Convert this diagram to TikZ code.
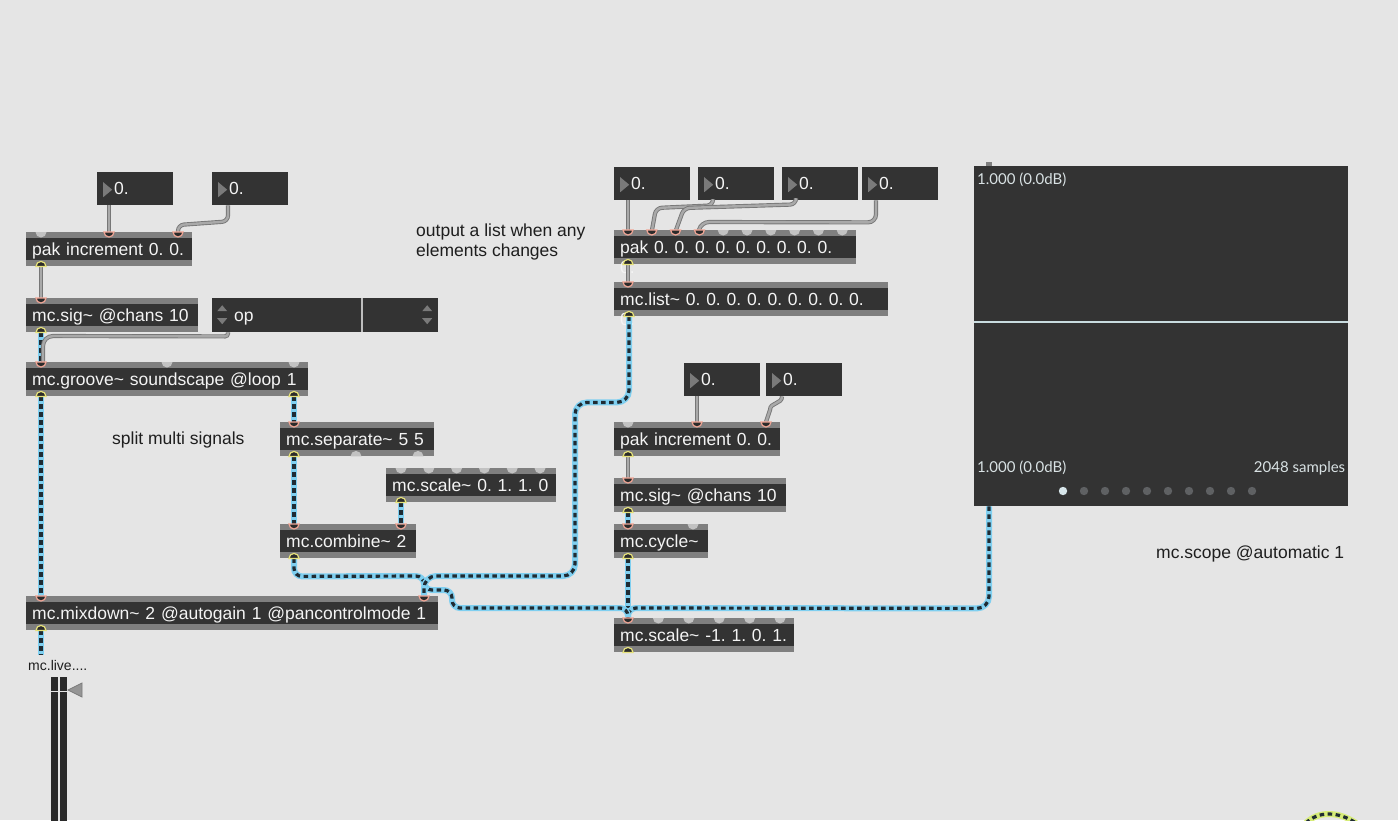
\documentclass[tikz,border=0pt]{standalone}
\usepackage{fontspec}
\setmainfont{Liberation Sans}
\newfontfamily\latofont{Lato}
\usetikzlibrary{calc}

\definecolor{canvas}{HTML}{E5E5E5}
\definecolor{objdark}{HTML}{333333}
\definecolor{objstrip}{HTML}{7F7F7F}
\definecolor{objtext}{HTML}{F4F4F4}
\definecolor{portdark}{HTML}{2B2B2B}
\definecolor{inletsal}{HTML}{F0A595}
\definecolor{outletyel}{HTML}{E6E27A}
\definecolor{portfree}{HTML}{C2C2C2}
\definecolor{sigblue}{HTML}{7FCFF0}
\definecolor{sigdash}{HTML}{1F2B33}
\definecolor{msggray}{HTML}{A9A9A9}
\definecolor{msgedge}{HTML}{777777}
\definecolor{commenttext}{HTML}{1E1E1E}
\definecolor{scopetext}{HTML}{D9E2E4}
\definecolor{scopeline}{HTML}{C9DCE0}
\definecolor{dotlight}{HTML}{D7E6EA}
\definecolor{dotgray}{HTML}{5F6163}
\definecolor{meterdark}{HTML}{2A2A2A}
\definecolor{arrowgray}{HTML}{7A7A7A}
\definecolor{menudiv}{HTML}{BEBEBE}
\definecolor{tailgreen}{HTML}{D6EC78}

\newcommand\objfont{\fontsize{17.5}{20}\selectfont}

% port glyphs: connected / free inlets on the top edge, outlets on the bottom edge
\newcommand\inOn[2]{\filldraw[inlet on] ($(#1.north west)+(#2,0)+(-5pt,0pt)$) arc[start angle=180,end angle=360,radius=5pt] -- cycle;}
\newcommand\inOff[2]{\fill[portfree] ($(#1.north west)+(#2,0)+(-5.5pt,0pt)$) arc[start angle=180,end angle=360,radius=5.5pt] -- cycle;}
\newcommand\outOn[2]{\filldraw[outlet on] ($(#1.south west)+(#2,0)+(-5pt,0pt)$) arc[start angle=180,end angle=0,radius=5pt] -- cycle;}
\newcommand\outOff[2]{\fill[portfree] ($(#1.south west)+(#2,0)+(-5.5pt,0pt)$) arc[start angle=180,end angle=0,radius=5.5pt] -- cycle;}

\begin{document}
\frenchspacing
\begin{tikzpicture}[x=1pt,y=-1pt,
  maxbox/.style={anchor=north west, fill=objstrip, text=objtext, font=\objfont,
    inner xsep=6pt, inner ysep=0pt, minimum height=34pt, text height=14.5pt, text depth=2pt,
    align=left,
    path picture={\fill[objdark] ($(path picture bounding box.north west)+(0pt,-6pt)$)
      rectangle ($(path picture bounding box.south east)+(0pt,6pt)$);}},
  numbox/.style={anchor=north west, fill=objdark, text=objtext, font=\objfont,
    inner xsep=17pt, inner ysep=0pt, text width=42pt, minimum height=33pt,
    text height=13pt, text depth=2pt, align=left,
    path picture={\fill[arrowgray] ($(path picture bounding box.north west)+(6pt,-10pt)$)
      -- ($(path picture bounding box.north west)+(6pt,-25pt)$)
      -- ($(path picture bounding box.north west)+(15pt,-17.5pt)$) -- cycle;}},
  menubox/.style={anchor=north west, fill=objdark, text=objtext, font=\objfont,
    inner xsep=22pt, inner ysep=0pt, text width=182pt, minimum height=34pt,
    text height=14.5pt, text depth=2pt, align=left,
    path picture={
      \draw[menudiv, line width=2pt] ($(path picture bounding box.north west)+(150pt,0pt)$)
        -- ($(path picture bounding box.south west)+(150pt,0pt)$);
      \foreach \dx in {5pt,210pt}{
        \fill[arrowgray] ($(path picture bounding box.north west)+(\dx,-13pt)$) -- +(10pt,0pt) -- +(5pt,6pt) -- cycle;
        \fill[arrowgray] ($(path picture bounding box.north west)+(\dx,-20pt)$) -- +(10pt,0pt) -- +(5pt,-6pt) -- cycle;
      }}},
  comment/.style={text=commenttext, font=\objfont, inner sep=0pt, align=left},
  scopetxt/.style={text=scopetext, font=\latofont\fontsize{15}{17}\selectfont, inner sep=0pt},
  sig/.style={draw=sigblue, line width=6pt, postaction={draw=sigdash, line width=3.2pt, dash pattern=on 4.5pt off 3.5pt}},
  sigtail/.style={draw=tailgreen, line width=6pt, postaction={draw=sigdash, line width=3.2pt, dash pattern=on 4.5pt off 3.5pt}},
  msg/.style={draw=msgedge, line width=4.2pt, postaction={draw=msggray, line width=2.4pt}},
  inlet on/.style={fill=portdark, draw=inletsal, line width=1.2pt},
  outlet on/.style={fill=portdark, draw=outletyel, line width=1.2pt},
]
\useasboundingbox (0,0) rectangle (1398,820);
\fill[canvas] (0,0) rectangle (1398,820);

% ---------- objects, left chain ----------
\node[numbox] (numA) at (97,172) {0.};
\node[numbox] (numB) at (212,172) {0.};
\node[maxbox, text width=154pt] (pakL) at (26,232) {pak increment 0. 0.};
\node[maxbox, text width=160pt] (sigL) at (26,298) {mc.sig\textasciitilde{} @chans 10};
\node[menubox] (umenu) at (212,298) {op};
\node[maxbox, text width=270pt] (groove) at (26,362) {mc.groove\textasciitilde{} soundscape @loop 1};
\node[maxbox, text width=142pt] (separate) at (280,422) {mc.separate\textasciitilde{} 5 5};
\node[maxbox, text width=158pt] (scaleA) at (386,468) {mc.scale\textasciitilde{} 0. 1. 1. 0};
\node[maxbox, text width=124pt] (combine) at (280,524) {mc.combine\textasciitilde{} 2};
\node[maxbox, text width=400pt] (mixdown) at (26,596) {mc.mixdown\textasciitilde{} 2 @autogain 1 @pancontrolmode 1};

% ---------- objects, right chain ----------
\node[numbox] (numC) at (614,167) {0.};
\node[numbox] (numD) at (698,167) {0.};
\node[numbox] (numE) at (782,167) {0.};
\node[numbox] (numF) at (862,167) {0.};
\node[maxbox, text width=230pt] (pakR) at (614,230) {pak 0. 0. 0. 0. 0. 0. 0. 0. 0. 0.};
\node[maxbox, text width=262pt] (list) at (614,282) {mc.list\textasciitilde{} 0. 0. 0. 0. 0. 0. 0. 0. 0. 0.};
\node[numbox] (numG) at (684,363) {0.};
\node[numbox] (numH) at (766,363) {0.};
\node[maxbox, text width=154pt] (pakInc) at (614,422) {pak increment 0. 0.};
\node[maxbox, text width=160pt] (sigR) at (614,478) {mc.sig\textasciitilde{} @chans 10};
\node[maxbox, text width=82pt] (cycle) at (614,524) {mc.cycle\textasciitilde{}};
\node[maxbox, text width=168pt] (scaleB) at (614,618) {mc.scale\textasciitilde{} -1. 1. 0. 1.};

% ---------- scope ----------
\node[anchor=north west, fill=objdark, minimum width=374pt, minimum height=340pt, inner sep=0pt] (scope) at (974,166) {};
\fill[objstrip] ($(scope.north west)+(12,-4)$) rectangle ($(scope.north west)+(18,0)$);
\draw[scopeline, line width=2pt] ($(scope.north west)+(0,156)$) -- ($(scope.north east)+(0,156)$);
\node[scopetxt, anchor=base west] (scTop) at ($(scope.north west)+(3,18)$) {1.000 (0.0dB)};
\node[scopetxt, anchor=base west] (scLow) at ($(scope.north west)+(3,306)$) {1.000 (0.0dB)};
\node[scopetxt, anchor=base east] (scSamp) at ($(scope.north east)+(-3,306)$) {2048 samples};
\fill[dotlight] ($(scope.north west)+(89,325)$) circle[radius=4.2pt];
\foreach \k in {1,...,9}
  \fill[dotgray] ($(scope.north west)+(89+21*\k,325)$) circle[radius=4.2pt];

% ---------- comments ----------
\node[comment, anchor=base west] (splitnote) at (112,444) {split multi signals};
\node[comment, anchor=north west] (listnote) at (416,224) {output a list when any\\elements changes};
\node[comment, anchor=base west] (scopenote) at (1156,558) {mc.scope @automatic 1};

% ---------- gain meter ----------
\node[anchor=base west, text=commenttext, font=\fontsize{14}{16}\selectfont, inner sep=0pt] (gainlabel) at (28,670) {mc.live....};
\node[anchor=north west, fill=meterdark, minimum width=16pt, minimum height=145pt, inner sep=0pt] (gain) at (51,677) {};
\draw[canvas, line width=1.5pt] ($(gain.north)$) -- ($(gain.south)$);
\draw[canvas, line width=1pt] ($(gain.north west)+(0,14)$) -- ($(gain.north east)+(0,14)$);
\fill[arrowgray!80, draw=arrowgray, line width=0.8pt] ($(gain.north west)+(17,13)$) -- ($(gain.north west)+(31,6)$) -- ($(gain.north west)+(31,20)$) -- cycle;
\coordinate (gainin) at ($(gain.north west)+(-10,-22)$);

% ---------- signal cables ----------
\draw[sig] ($(sigL.south west)+(15,0)$) -- ($(groove.north west)+(15,0)$);
\draw[sig] ($(groove.south west)+(15,0)$) -- ($(mixdown.north west)+(15,0)$);
\draw[sig] ($(groove.south west)+(268,0)$) -- ($(separate.north west)+(14,0)$);
\draw[sig] ($(separate.south west)+(14,0)$) -- ($(combine.north west)+(14,0)$);
\draw[sig] ($(scaleA.south west)+(15,0)$) -- ($(combine.north west)+(121,0)$);
\draw[sig] ($(mixdown.south west)+(15,0)$) -- (gainin);
\draw[sig] ($(sigR.south west)+(14,0)$) -- ($(cycle.north west)+(14,0)$);
\draw[sig] ($(cycle.south west)+(14,0)$) -- ($(scaleB.north west)+(14,0)$);
\draw[sig, rounded corners=12pt] ($(scope.south west)+(15,0)$) -- ($(scope.south west)+(15,102)$)
  [rounded corners=8pt] -- ($(scaleB.north west)+(14,-10)$) -- ($(scaleB.north west)+(14,0)$);
\draw[sig, rounded corners=8pt] ($(combine.south west)+(14,0)$) -- ($(combine.south west)+(14,18)$)
  -- ($(mixdown.north west)+(398,-20)$) -- ($(mixdown.north west)+(398,-6)$)
  -- ($(mixdown.north west)+(426,-6)$) -- ($(mixdown.north west)+(426,12)$)
  -- ($(scaleB.north west)+(14,-10)$) -- ($(scaleB.north west)+(14,0)$);
\draw[sig, rounded corners=12pt] ($(list.south west)+(15,0)$) -- ($(list.south west)+(15,86)$)
  -- ($(list.south west)+(-39,86)$) -- ($(mixdown.north west)+(549,-20)$)
  -- ($(mixdown.north west)+(398,-20)$) -- ($(mixdown.north west)+(398,0)$);

% ---------- message cables ----------
\draw[msg] ($(numA.south west)+(12,0)$) -- ($(pakL.north west)+(83,0)$);
\draw[msg, rounded corners=6pt] ($(numB.south west)+(16,0)$) -- ($(numB.south west)+(16,16)$)
  -- ($(pakL.north west)+(152,-7)$) -- ($(pakL.north west)+(152,0)$);
\draw[msg] ($(pakL.south west)+(15,0)$) -- ($(sigL.north west)+(15,0)$);
\draw[msg] ($(umenu.south west)+(16,0)$) [rounded corners=3pt] -- ($(umenu.south west)+(16,4)$)
  [rounded corners=10pt] -- ($(groove.north west)+(17,-26)$) -- ($(groove.north west)+(17,0)$);
\draw[msg] ($(numC.south west)+(14,0)$) -- ($(pakR.north west)+(14,0)$);
\draw[msg, rounded corners=6pt] ($(numD.south west)+(15,0)$) -- ($(numD.south west)+(15,5)$)
  -- ($(pakR.north west)+(42,-22)$) -- ($(pakR.north west)+(38,0)$);
\draw[msg, rounded corners=6pt] ($(numE.south west)+(14,0)$) -- ($(numE.south west)+(14,4)$)
  -- ($(pakR.north west)+(70,-22)$) -- ($(pakR.north west)+(66,-11)$) -- ($(pakR.north west)+(62,0)$);
\draw[msg, rounded corners=8pt] ($(numF.south west)+(14,0)$) -- ($(numF.south west)+(14,22)$)
  -- ($(pakR.north west)+(87,-8)$) -- ($(pakR.north west)+(85,0)$);
\draw[msg] ($(pakR.south west)+(14,0)$) -- ($(list.north west)+(14,0)$);
\draw[msg] ($(numG.south west)+(13,0)$) -- ($(pakInc.north west)+(83,0)$);
\draw[msg] ($(numH.south west)+(16,0)$) .. controls ($(numH.south west)+(16,8)$) and ($(pakInc.north west)+(156,-20)$) .. ($(pakInc.north west)+(156,-12)$) -- ($(pakInc.north west)+(152,0)$);
\draw[msg] ($(pakInc.south west)+(14,0)$) -- ($(sigR.north west)+(14,0)$);

% loose cable entering at the lower edge
\coordinate (tailA) at (1306,823);
\coordinate (tailB) at (1356,823);
\draw[sigtail] (tailA) .. controls (1318,811) and (1338,811) .. (tailB);

% ---------- ports ----------
\inOff{pakL}{15} \inOn{pakL}{83} \inOn{pakL}{152} \outOn{pakL}{15}
\inOn{sigL}{15} \outOn{sigL}{15}
\inOn{groove}{15} \inOff{groove}{141} \inOff{groove}{268} \outOn{groove}{15} \outOn{groove}{268}
\inOn{separate}{14} \outOn{separate}{14} \outOff{separate}{76} \outOff{separate}{138}
\foreach \k in {0,...,5}{\inOff{scaleA}{15+27.8*\k}} \outOn{scaleA}{15}
\inOn{combine}{14} \inOn{combine}{121} \outOn{combine}{14}
\inOn{mixdown}{15} \inOn{mixdown}{398} \outOn{mixdown}{15}
\foreach \k in {0,...,3}{\inOn{pakR}{14+23.8*\k}}
\foreach \k in {4,...,9}{\inOff{pakR}{14+23.8*\k}}
\outOn{pakR}{14}
\inOn{list}{14} \outOn{list}{15}
\inOff{pakInc}{14} \inOn{pakInc}{83} \inOn{pakInc}{152} \outOn{pakInc}{14}
\inOn{sigR}{14} \outOn{sigR}{14}
\inOn{cycle}{14} \inOff{cycle}{79} \outOn{cycle}{14}
\inOn{scaleB}{14}
\foreach \k in {1,...,5}{\inOff{scaleB}{14+30.4*\k}}
\outOn{scaleB}{14}
\end{tikzpicture}
\end{document}
